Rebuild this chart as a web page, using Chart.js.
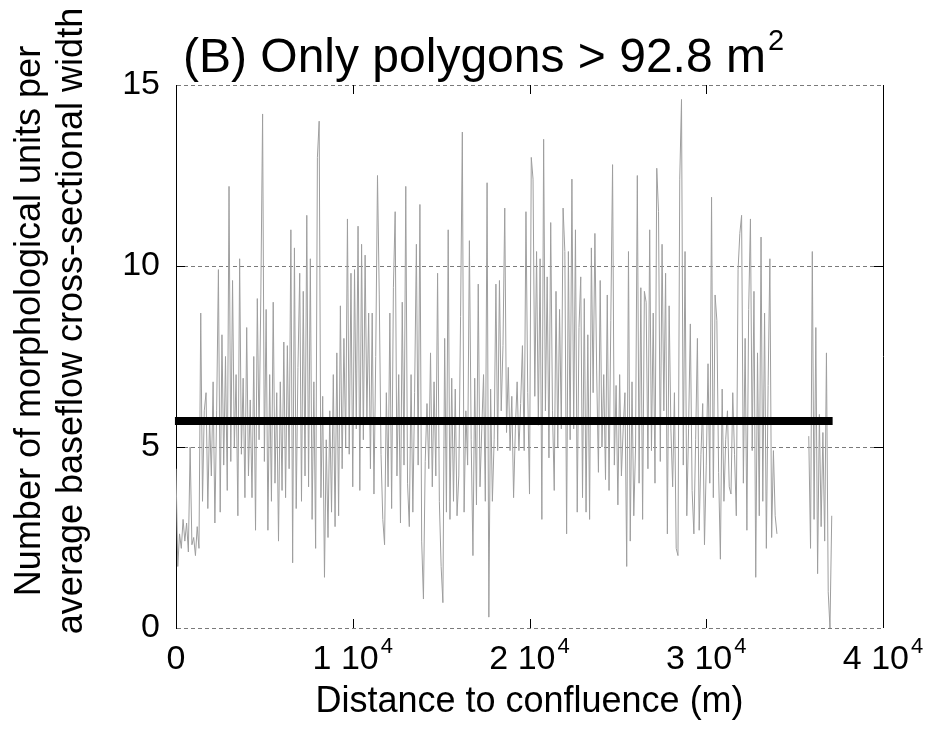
<!DOCTYPE html>
<html>
<head>
<meta charset="utf-8">
<script src="https://cdn.jsdelivr.net/npm/chart.js@4.4.0/dist/chart.umd.min.js"></script>
<style>
  html, body { margin: 0; padding: 0; background: #fff; }
  #wrap { width: 931px; height: 730px; }
</style>
</head>
<body>
<div id="wrap"><canvas id="unitsChart" width="931" height="730"></canvas></div>
<script>
// samples along the river every 100 m
const stepM = 100;
const startA = 0;       // upstream reach, 0 .. 34000 m
const startB = 35800;   // short reach after the gap, 35800 .. 37100 m

const valuesA = [
  4.4, 1.7, 2.6, 2.2, 3.0, 2.4, 2.9, 2.1, 5.0, 2.3,
  2.5, 2.0, 2.8, 2.2, 8.7, 3.5, 6.0, 6.5, 3.3, 5.8,
  4.2, 6.8, 2.9, 6.0, 9.9, 3.2, 8.1, 4.5, 7.5, 3.8,
  12.2, 4.6, 9.6, 5.0, 7.0, 3.1, 10.2, 4.8, 6.9, 3.6,
  8.3, 4.2, 6.3, 3.6, 7.5, 2.7, 9.1, 5.2, 9.2, 14.2,
  4.6, 8.8, 2.7, 7.0, 3.5, 9.0, 4.0, 6.5, 2.4, 6.8,
  3.8, 7.9, 3.6, 7.8, 4.4, 11.0, 1.8, 10.5, 3.3, 7.2,
  9.8, 3.5, 9.3, 4.2, 11.4, 3.9, 10.2, 3.0, 6.8, 2.2,
  13.0, 14.0, 3.6, 6.4, 1.4, 5.2, 2.5, 6.0, 3.2, 7.0,
  2.8, 7.6, 3.1, 8.9, 4.4, 8.0, 5.0, 11.3, 4.8, 9.8,
  3.9, 9.9, 5.5, 11.1, 3.8, 10.6, 5.2, 10.3, 5.8, 8.7,
  4.4, 8.7, 3.7, 7.5, 12.5, 9.2, 4.8, 3.0, 2.3, 6.5,
  3.9, 8.7, 3.3, 9.4, 11.5, 4.2, 7.0, 2.9, 9.0, 4.5,
  12.2, 4.0, 2.8, 7.0, 3.2, 6.5, 10.6, 4.5, 11.7, 2.4,
  0.8, 4.6, 6.2, 4.4, 7.6, 3.9, 6.8, 4.2, 9.8, 3.5,
  1.7, 0.7, 8.0, 3.2, 11.0, 3.0, 6.9, 3.5, 6.6, 3.1,
  4.2, 8.6, 13.7, 3.2, 6.0, 4.5, 10.7, 5.2, 2.0, 6.9,
  3.4, 9.5, 3.9, 5.5, 7.0, 3.5, 12.3, 0.3, 6.6, 3.5,
  5.2, 9.5, 4.9, 9.6, 6.0, 7.8, 11.6, 5.4, 7.2, 4.9,
  6.4, 3.6, 5.5, 6.8, 4.9, 6.2, 7.8, 4.9, 11.5, 6.5,
  3.7, 13.0, 12.4, 6.4, 10.4, 5.6, 10.2, 3.0, 13.5, 6.0,
  9.7, 4.7, 11.2, 6.0, 3.8, 9.3, 5.0, 8.8, 5.5, 11.6,
  10.4, 2.6, 10.4, 5.2, 12.4, 5.5, 11.0, 3.2, 8.3, 9.7,
  3.6, 9.1, 3.2, 8.1, 3.0, 10.5, 6.5, 10.9, 7.1, 4.3,
  9.6, 5.0, 7.0, 4.1, 9.2, 3.8, 8.5, 12.8, 4.5, 6.7,
  3.4, 7.0, 4.2, 5.5, 6.5, 1.7, 10.4, 2.4, 6.8, 3.1,
  5.0, 12.5, 4.0, 9.4, 3.0, 9.3, 9.0, 4.4, 11.0, 4.9,
  8.7, 4.0, 12.7, 11.5, 4.6, 10.6, 6.0, 9.8, 2.6, 8.9,
  5.5, 3.9, 6.5, 2.2, 2.0, 12.4, 14.6, 4.5, 10.4, 3.1,
  5.5, 8.4, 3.8, 2.6, 5.2, 8.0, 2.7, 4.8, 6.2, 2.3,
  4.5, 7.3, 4.0, 11.9, 3.6, 9.2, 8.5, 4.3, 1.9, 6.6,
  3.5, 5.2, 6.0, 3.9, 3.7, 6.5, 4.8, 3.1, 9.9, 10.9,
  11.4, 4.0, 8.0, 2.7, 8.8, 11.3, 4.9, 9.3, 1.4, 7.6,
  3.1, 10.8, 3.5, 8.7, 2.2, 6.7, 10.2, 2.5, 4.9, 3.1,
  2.6
];
const valuesB = [5.3, 2.2, 10.4, 3.0, 8.3, 1.5, 5.9, 2.8, 5.4, 2.4, 7.6, 1.0, 0.0, 3.1];

// mean line
const meanValue = 5.72;
const meanRange = [-60, 37150];

const xTicks = [0, 10000, 20000, 30000, 40000];
const xTickBase = ['0', '1 10', '2 10', '3 10', '4 10'];
const xTickExp = ['', '4', '4', '4', '4'];
const yTicks = [0, 5, 10, 15];

const titleText = '(B) Only polygons > 92.8 m';
const titleSup = '2';
const yTitle = ['Number of morphological units per', 'average baseflow cross-sectional width'];
const xTitle = 'Distance to confluence (m)';

const FONT = "'Liberation Sans', Arial, sans-serif";
Chart.defaults.font.family = FONT;
Chart.defaults.color = '#000';

function toPoints(start, vals) {
  return vals.map((v, i) => ({ x: start + i * stepM, y: v }));
}

// frame, inward ticks, x labels with exponent, titles
const frameAndText = {
  id: 'frameAndText',
  afterDraw(chart) {
    const { ctx, chartArea: a, scales: { x, y } } = chart;
    ctx.save();
    ctx.strokeStyle = '#000';
    ctx.lineWidth = 1;
    ctx.beginPath();
    ctx.moveTo(a.right + 0.5, a.top);
    ctx.lineTo(a.right + 0.5, a.bottom);
    xTicks.slice(1, -1).forEach(v => {
      const px = Math.round(x.getPixelForValue(v)) + 0.5;
      ctx.moveTo(px, a.bottom); ctx.lineTo(px, a.bottom - 9);
      ctx.moveTo(px, a.top); ctx.lineTo(px, a.top + 9);
    });
    yTicks.slice(1, -1).forEach(v => {
      const py = Math.round(y.getPixelForValue(v)) + 0.5;
      ctx.moveTo(a.left, py); ctx.lineTo(a.left + 9, py);
      ctx.moveTo(a.right, py); ctx.lineTo(a.right - 9, py);
    });
    ctx.stroke();

    ctx.fillStyle = '#000';
    ctx.textBaseline = 'alphabetic';
    ctx.textAlign = 'left';
    const base = a.bottom + 41;
    xTicks.forEach((v, i) => {
      ctx.font = '34px ' + FONT;
      const w1 = ctx.measureText(xTickBase[i]).width;
      ctx.font = '22px ' + FONT;
      const w2 = xTickExp[i] ? ctx.measureText(xTickExp[i]).width + 2 : 0;
      const left = x.getPixelForValue(v) - (w1 + w2) / 2;
      ctx.font = '34px ' + FONT;
      ctx.fillText(xTickBase[i], left, base);
      if (xTickExp[i]) {
        ctx.font = '22px ' + FONT;
        ctx.fillText(xTickExp[i], left + w1 + 2, base - 16);
      }
    });

    ctx.font = '48px ' + FONT;
    const tx = a.left + 7, ty = a.top - 13;
    ctx.fillText(titleText, tx, ty);
    const tw = ctx.measureText(titleText).width;
    ctx.font = '29px ' + FONT;
    ctx.fillText(titleSup, tx + tw + 2, ty - 22);

    // two-line y title, sitting a little above the plot's middle as in the source figure
    ctx.font = '36px ' + FONT;
    ctx.textAlign = 'center';
    ctx.textBaseline = 'middle';
    ctx.translate(30, a.top + 236);
    ctx.rotate(-Math.PI / 2);
    yTitle.forEach((line, i) => ctx.fillText(line, 0, i * 42));
    ctx.restore();
  }
};

new Chart(document.getElementById('unitsChart'), {
  type: 'line',
  data: {
    datasets: [
      {
        data: [{ x: meanRange[0], y: meanValue }, { x: meanRange[1], y: meanValue }],
        borderColor: '#000', borderWidth: 8, pointRadius: 0, borderCapStyle: 'butt',
        clip: false, order: 0
      },
      {
        data: toPoints(startA, valuesA),
        borderColor: '#9e9e9e', borderWidth: 1, pointRadius: 0, tension: 0, order: 1
      },
      {
        data: toPoints(startB, valuesB),
        borderColor: '#9e9e9e', borderWidth: 1, pointRadius: 0, tension: 0, order: 1
      }
    ]
  },
  options: {
    responsive: false,
    devicePixelRatio: 1,
    animation: false,
    layout: { padding: { top: 85, right: 48, left: 0, bottom: 0 } },
    plugins: {
      legend: { display: false },
      tooltip: { enabled: false },
      title: { display: false }
    },
    scales: {
      x: {
        type: 'linear', min: 0, max: 40000,
        afterBuildTicks: s => { s.ticks = xTicks.map(v => ({ value: v })); },
        afterFit: s => { s.height = 102; },
        ticks: { display: false },
        grid: { display: false },
        border: { display: false },
        title: { display: true, text: xTitle, font: { size: 36 }, color: '#000', padding: { top: 0, bottom: 6 } }
      },
      y: {
        min: 0, max: 15,
        afterBuildTicks: s => { s.ticks = yTicks.map(v => ({ value: v })); },
        afterFit: s => { s.width = 176; },
        ticks: { font: { size: 34 }, color: '#000', padding: 16 },
        grid: { color: '#7a7a7a', lineWidth: 1, drawTicks: false },
        border: { display: true, color: '#000', dash: [4, 3] },
        title: { display: false }
      }
    }
  },
  plugins: [frameAndText]
});
</script>
</body>
</html>
